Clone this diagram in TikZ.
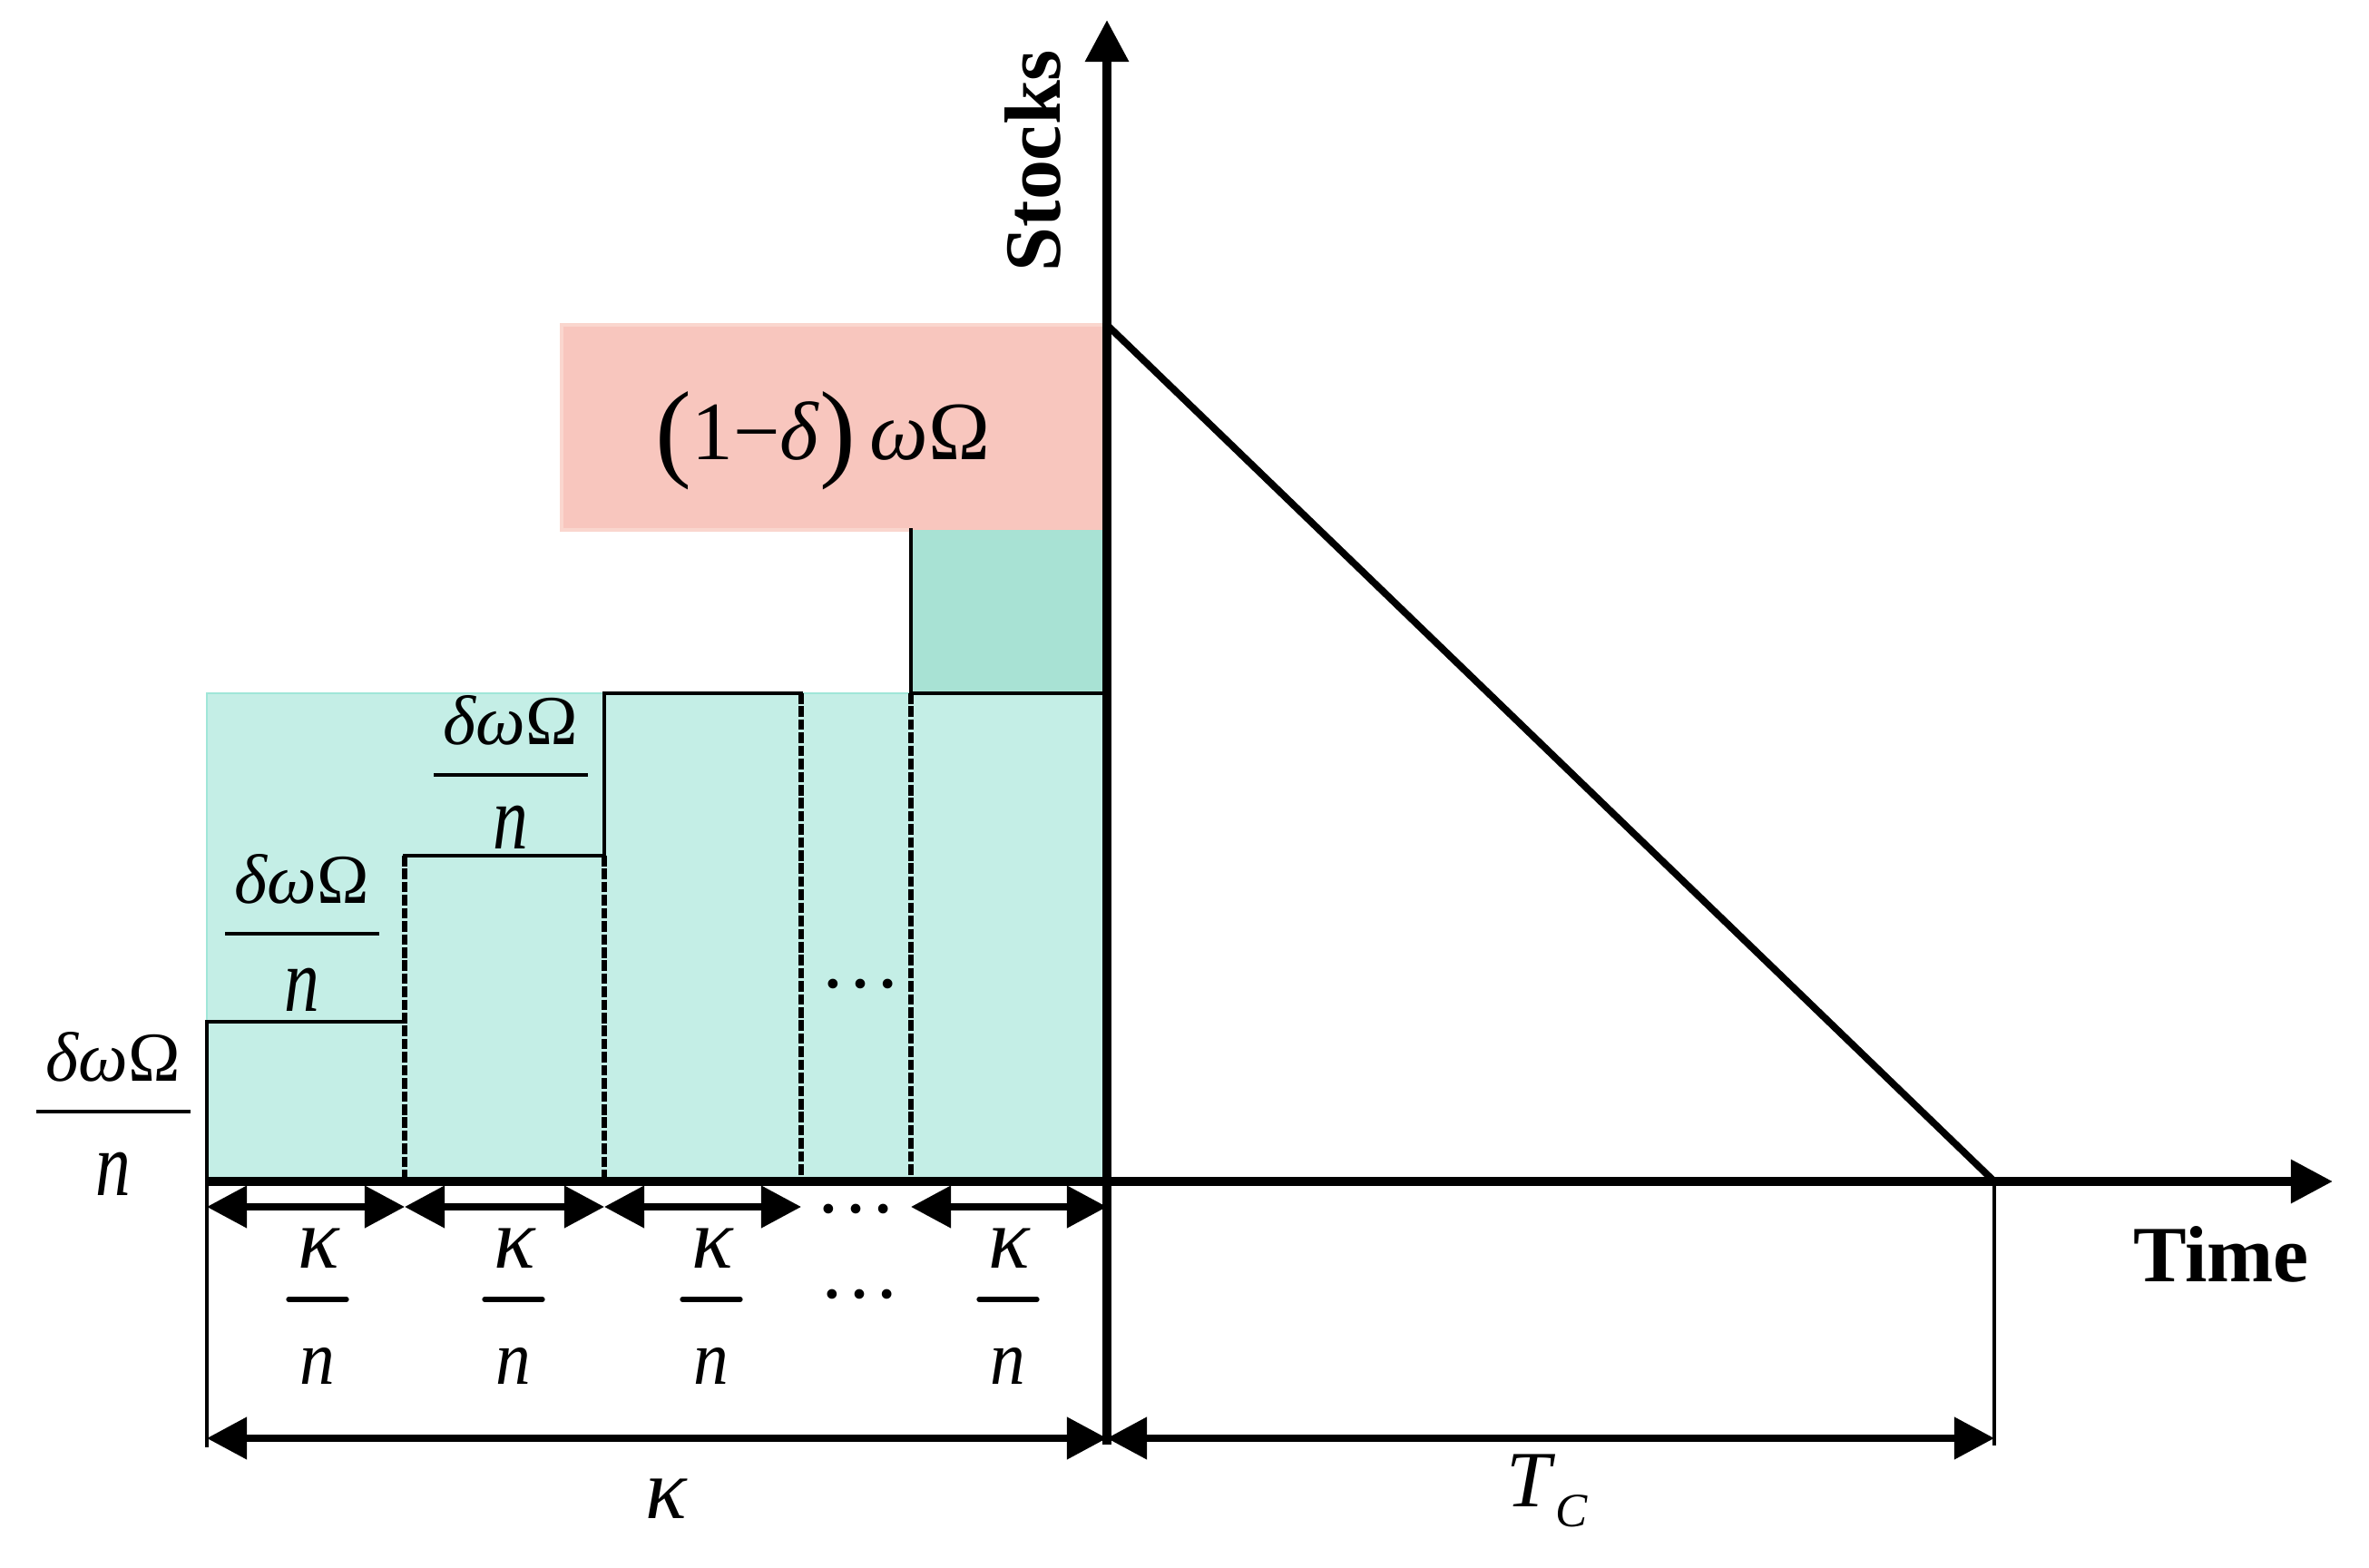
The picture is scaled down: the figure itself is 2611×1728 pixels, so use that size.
\documentclass[tikz,border=0pt]{standalone}
\usepackage{fontspec}
\setmainfont{Liberation Serif}
\usepackage{graphicx}
\usetikzlibrary{arrows.meta}
\definecolor{cyanfill}{RGB}{196,238,230}
\definecolor{cyanedge}{RGB}{160,230,216}
\definecolor{greenfill}{RGB}{168,226,212}
\definecolor{pinkfill}{RGB}{248,198,190}
\definecolor{pinkedge}{RGB}{250,214,206}
\begin{document}
\begin{tikzpicture}[x=0.01cm,y=-0.01cm,
  solidln/.style={line width=1.4pt,line cap=rect},
  dashln/.style={line width=1.5pt,dash pattern=on 3.3pt off 0.8pt},
  thinln/.style={line width=1.1pt},
  axisln/.style={line width=2.7pt,-{Triangle[length=4.6mm,width=4.6mm]}},
  diagln/.style={line width=2.2pt},
  dimarrow/.style={line width=2.1pt,{Triangle[length=4.4mm,width=4.5mm]}-{Triangle[length=4.4mm,width=4.5mm]}},
  fbar/.style={line width=1.3pt},
  kbar/.style={line width=1.5pt,line cap=round},
  txt/.style={inner sep=0pt,outer sep=0pt,anchor=base},
  numf/.style={txt,font=\fontsize{22}{26}\selectfont},
  kapf/.style={txt,font=\fontsize{27}{30}\selectfont},
  denf/.style={txt,font=\fontsize{22}{26}\selectfont},
  boldlbl/.style={txt,font=\fontsize{25}{30}\selectfont\bfseries},
  dotsf/.style={txt,font=\fontsize{25.6}{30}\selectfont},
]
\useasboundingbox (0,0) rectangle (2611,1728);

% key points
\coordinate (O) at (1220,1302);
\coordinate (ytop) at (1220,22);
\coordinate (ybot) at (1220,1592);
\coordinate (xleft) at (228,1302);
\coordinate (xtip) at (2571,1302);
\coordinate (P) at (1220,358);
\coordinate (Q) at (2198,1302);
\coordinate (A0) at (228,1330);
\coordinate (A1) at (446,1330);
\coordinate (A2) at (666,1330);
\coordinate (A3) at (883,1330);
\coordinate (A4) at (1004,1330);
\coordinate (A5) at (1220,1330);
\coordinate (B0) at (228,1585);
\coordinate (B1) at (1220,1585);
\coordinate (B2) at (2198,1585);

% fills
\fill[cyanfill] (228,764) rectangle (1220,1302);
\draw[cyanedge,line width=0.8pt] (228,1302) -- (228,764) -- (1220,764);
\fill[greenfill] (1004,584) rectangle (1220,764);
\fill[pinkfill] (619,358) rectangle (1220,584);
\draw[pinkedge,line width=0.9pt] (1220,358) -- (619,358) -- (619,584) -- (1004,584);

% steps
\draw[solidln] (228,1126) -- (446,1126);
\draw[dashln] (446,943) -- (446,1302);
\draw[solidln] (446,943) -- (666,943);
\draw[solidln] (666,764) -- (666,943);
\draw[dashln] (666,943) -- (666,1302);
\draw[solidln] (666,764) -- (883,764);
\draw[dashln] (883,764) -- (883,1302);
\draw[solidln] (1004,584) -- (1004,764) -- (1220,764);
\draw[dashln] (1004,764) -- (1004,1302);
\draw[thinln] (228,1126) -- (228,1595);
\draw[thinln] (Q) -- (2198,1593);

% diagonal and axes
\draw[diagln] (P) -- (Q);
\draw[axisln] (ybot) -- (ytop);
\draw[axisln] (xleft) -- (xtip);

% dimension arrows
\draw[dimarrow] (A0) -- (A1);
\draw[dimarrow] (A1) -- (A2);
\draw[dimarrow] (A2) -- (A3);
\draw[dimarrow] (A4) -- (A5);
\draw[dimarrow] (B0) -- (B1);
\draw[dimarrow] (B1) -- (B2);

% fraction labels delta omega Omega / n
\node[numf] (fAn) at (125,1192) {\textit{δω}Ω};
\draw[fbar] (40,1225) -- (210,1225);
\node[denf] (fAd) at (125,1317) {\scalebox{1}[1.3]{\textit{n}}};

\node[numf] (fBn) at (333,996) {\textit{δω}Ω};
\draw[fbar] (248,1029) -- (418,1029);
\node[denf] (fBd) at (333,1114) {\scalebox{1}[1.3]{\textit{n}}};

\node[numf] (fCn) at (563,821) {\textit{δω}Ω};
\draw[fbar] (478,854) -- (648,854);
\node[denf] (fCd) at (563,936) {\scalebox{1}[1.3]{\textit{n}}};

% kappa / n labels
\node[kapf] (k1) at (352,1397) {\textit{κ}};
\draw[kbar] (318,1432) -- (382,1432);
\node[denf] (n1) at (350,1525) {\scalebox{1}[1.1]{\textit{n}}};

\node[kapf] (k2) at (568,1397) {\textit{κ}};
\draw[kbar] (534,1432) -- (598,1432);
\node[denf] (n2) at (566,1525) {\scalebox{1}[1.1]{\textit{n}}};

\node[kapf] (k3) at (786,1397) {\textit{κ}};
\draw[kbar] (752,1432) -- (816,1432);
\node[denf] (n3) at (784,1525) {\scalebox{1}[1.1]{\textit{n}}};

\node[kapf] (k4) at (1113,1397) {\textit{κ}};
\draw[kbar] (1079,1432) -- (1143,1432);
\node[denf] (n4) at (1111,1525) {\scalebox{1}[1.1]{\textit{n}}};

% dots
\node[dotsf] (d1) at (949,1088.5) {…};
\node[dotsf] (d2) at (944,1336.5) {…};
\node[dotsf] (d3) at (948,1430.5) {…};

% bottom labels
\node[kapf] (kap) at (735,1673) {\textit{κ}};
\node[txt,font=\fontsize{25}{30}\selectfont] (tc) at (1705,1660)
  {\textit{T}\raisebox{-6.5pt}{\fontsize{15}{18}\selectfont\textit{C}}};

% pink label
\node[txt,font=\fontsize{26}{30}\selectfont] (pl) at (907,507)
  {\raisebox{-2pt}{\fontsize{34}{36}\selectfont(}1−\textit{δ}\raisebox{-2pt}{\fontsize{34}{36}\selectfont)}\,\textit{ω}Ω};

% axis labels
\node[boldlbl] (time) at (2448,1412) {Time};
\node[boldlbl,rotate=90] (stocks) at (1168,177) {Stocks};
\end{tikzpicture}
\end{document}
